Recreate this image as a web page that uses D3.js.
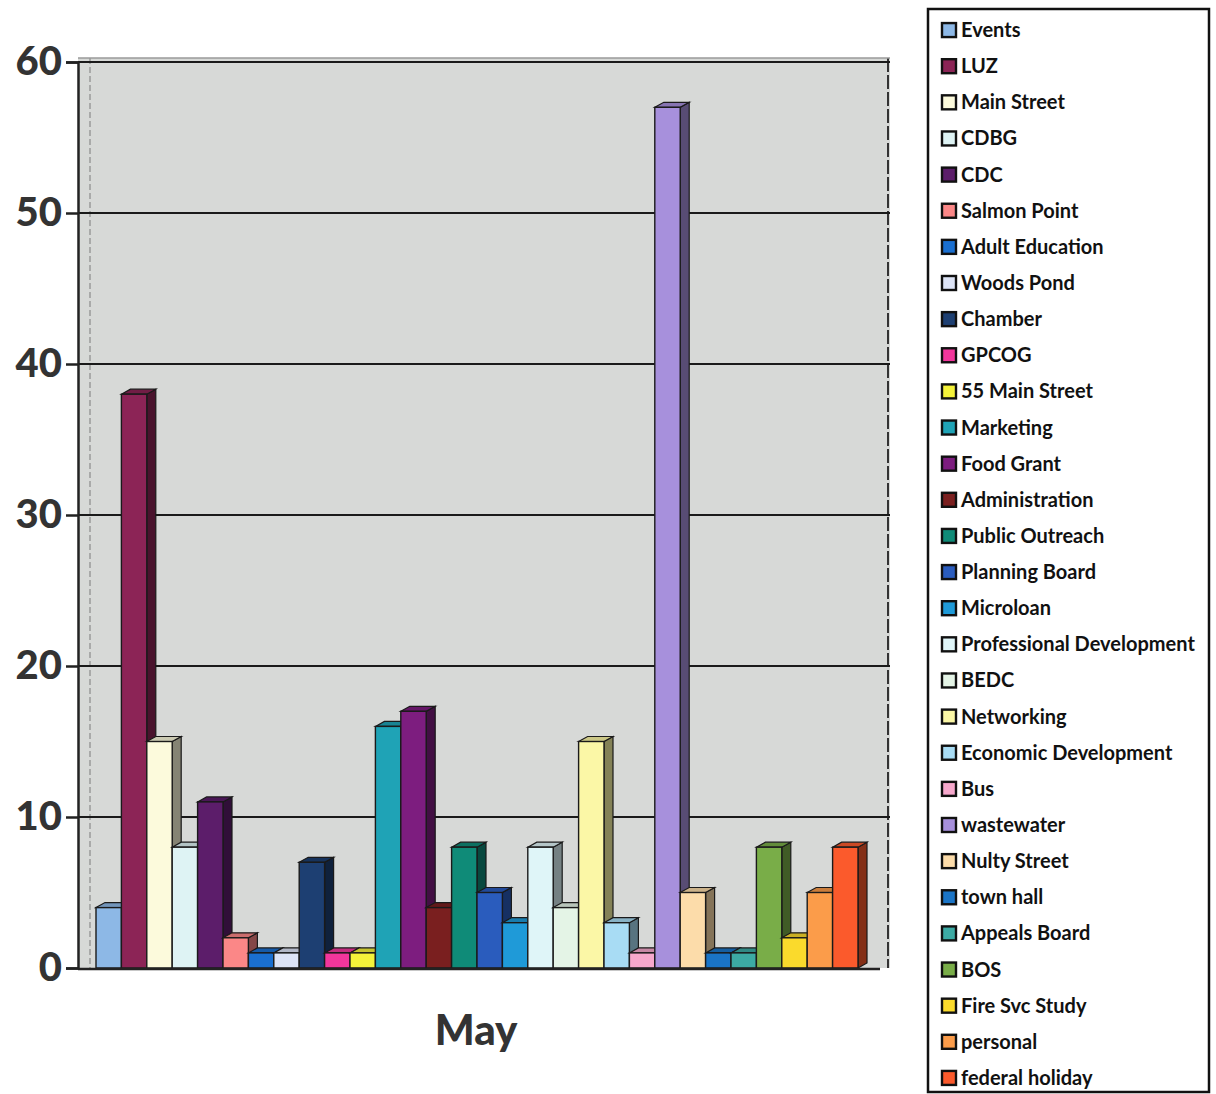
<!DOCTYPE html>
<meta charset="utf-8">
<script src="https://d3js.org/d3.v7.min.js"></script>
<style>
  body { margin: 0; background: #fff; }
  text { font-family: Lato, "Open Sans", sans-serif; }
</style>
<div id="viz"></div>
<script>
// series shown in the legend, in the order the bars appear
var series = ["Events", "LUZ", "Main Street", "CDBG", "CDC", "Salmon Point", "Adult Education",
  "Woods Pond", "Chamber", "GPCOG", "55 Main Street", "Marketing", "Food Grant", "Administration",
  "Public Outreach", "Planning Board", "Microloan", "Professional Development", "BEDC", "Networking",
  "Economic Development", "Bus", "wastewater", "Nulty Street", "town hall", "Appeals Board", "BOS",
  "Fire Svc Study", "personal", "federal holiday"]
var values = [4, 38, 15, 8, 11, 2, 1, 1, 7, 1, 1, 16, 17, 4, 8, 5, 3, 8, 4, 15, 3, 1, 57, 5, 1, 1, 8, 2, 5, 8]
var colors = ["#8db8e6", "#8c2456", "#fcfadc", "#def3f4", "#5c1d6a", "#fb8787", "#1a6fd0",
  "#dde4f6", "#1d3f72", "#f2369c", "#f4f23a", "#1fa3b6", "#7d1d7f", "#7a1f1f",
  "#0f8b78", "#2a5cbd", "#1f9ad8", "#dff5f8", "#e4f4e6", "#fbf7a6",
  "#a8dcf4", "#f6a8cc", "#a790dc", "#fcdcaa", "#1a74c6", "#3caaa4", "#79ad48",
  "#fada2c", "#fb9c4a", "#fb5a2c"]
var category = "May"
var yTicks = [0, 10, 20, 30, 40, 50, 60]

var W = 1216, H = 1094
var svg = d3.select("#viz").append("svg").attr("width", W).attr("height", H)

// plot area
var pLeft = 78, pRight = 890, pTop = 58, pBottom = 968
var y = d3.scaleLinear().domain([0, 60]).range([pBottom, pTop + 4])
var x = d3.scaleBand().domain(series).range([96, 858]).padding(0)
var dx = 9, dy = -5

// back wall
svg.append("rect")
  .attr("x", pLeft).attr("y", pTop)
  .attr("width", pRight - pLeft).attr("height", pBottom - pTop)
  .style("fill", "#d7d9d7")
svg.append("line")
  .attr("x1", pLeft + 12).attr("x2", pLeft + 12).attr("y1", pTop).attr("y2", pBottom)
  .style("stroke", "#9a9a9a").style("stroke-width", 1.5).style("stroke-dasharray", "6,3")
svg.append("line")
  .attr("x1", pRight - 2).attr("x2", pRight - 2).attr("y1", pTop).attr("y2", pBottom)
  .style("stroke", "#333").style("stroke-width", 2).style("stroke-dasharray", "14,3")
svg.append("line")
  .attr("x1", pLeft).attr("x2", pRight).attr("y1", pTop).attr("y2", pTop)
  .style("stroke", "#9a9a9a").style("stroke-width", 1.5)

// gridlines
svg.append("g").selectAll("line")
  .data(yTicks.filter(function(d) { return d > 0 }))
  .enter().append("line")
  .attr("x1", pLeft).attr("x2", pRight)
  .attr("y1", function(d) { return y(d) }).attr("y2", function(d) { return y(d) })
  .style("stroke", "#1a1a1a").style("stroke-width", 2)

// y axis
var yAxis = svg.append("g")
  .attr("transform", "translate(" + pLeft + ",0)")
  .call(d3.axisLeft(y).tickValues(yTicks).tickSize(12).tickPadding(4))
yAxis.select(".domain").style("stroke", "#222").style("stroke-width", 2.5)
yAxis.selectAll(".tick line").style("stroke", "#222").style("stroke-width", 2.5)
yAxis.selectAll(".tick text")
  .style("font-size", "40px").style("font-weight", "900").style("fill", "#333")

// bars drawn left to right so each front face covers the previous side face
var bars = svg.append("g").selectAll("g")
  .data(series)
  .enter().append("g")
bars.each(function(name, i) {
  var g = d3.select(this)
  var x0 = x(name), x1 = x0 + x.bandwidth()
  var yt = y(values[i]), yb = y(0)
  var c = d3.color(colors[i])
  g.append("path")
    .attr("d", "M" + x1 + "," + yb + "L" + (x1 + dx) + "," + (yb + dy) + "L" + (x1 + dx) + "," + (yt + dy) +
      "L" + x1 + "," + yt + "Z")
    .style("fill", c.darker(1.8)).style("stroke", "#1a1a1a").style("stroke-width", 1.2)
  g.append("path")
    .attr("d", "M" + x0 + "," + yt + "L" + (x0 + dx) + "," + (yt + dy) + "L" + (x1 + dx) + "," + (yt + dy) +
      "L" + x1 + "," + yt + "Z")
    .style("fill", c.darker(0.6)).style("stroke", "#1a1a1a").style("stroke-width", 1.2)
  g.append("rect")
    .attr("x", x0).attr("y", yt)
    .attr("width", x.bandwidth()).attr("height", yb - yt)
    .style("fill", c).style("stroke", "#1a1a1a").style("stroke-width", 1.4)
})

// floor line
svg.append("line")
  .attr("x1", pLeft).attr("x2", 880).attr("y1", pBottom + 1).attr("y2", pBottom + 1)
  .style("stroke", "#222").style("stroke-width", 2.5)

// category label
svg.append("text")
  .attr("x", 476).attr("y", 1045)
  .attr("text-anchor", "middle")
  .style("font-size", "42px").style("font-weight", "900").style("fill", "#333")
  .text(category)

// legend
var legend = svg.append("g")
legend.append("rect")
  .attr("x", 928).attr("y", 9).attr("width", 281).attr("height", 1083)
  .style("fill", "#fff").style("stroke", "#111").style("stroke-width", 2.5)
var ly = d3.scaleBand().domain(series).range([12, 1096])
var items = legend.selectAll(".item")
  .data(series)
  .enter().append("g")
  .attr("class", "item")
  .attr("transform", function(d) { return "translate(0," + (ly(d) + ly.bandwidth() / 2) + ")" })
items.append("rect")
  .attr("x", 942).attr("y", -7).attr("width", 14).attr("height", 14)
  .style("fill", function(d, i) { return colors[i] })
  .style("stroke", "#111").style("stroke-width", 2.4)
items.append("text")
  .attr("x", 961).attr("y", 7)
  .style("font-size", "20px").style("font-weight", "bold").style("fill", "#111")
  .text(function(d) { return d })
</script>
